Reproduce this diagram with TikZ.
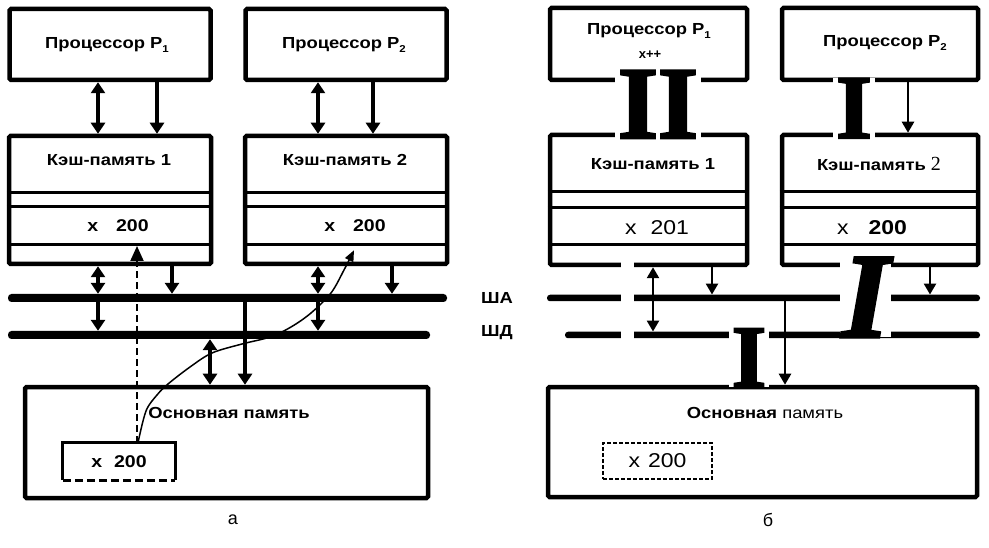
\documentclass[tikz,border=0pt]{standalone}
\usepackage{fontspec}
\setmainfont{Liberation Sans}
\newfontfamily\wide[FakeStretch=1.15]{Liberation Sans}
\newfontfamily\serifg{Liberation Serif}
\newfontfamily\glyphf[FakeBold=2.5]{Liberation Serif}
\usetikzlibrary{arrows.meta}
\newcommand\sbs[1]{\raisebox{-0.45ex}{\fontsize{10}{10}\selectfont #1}}
\tikzset{
  box/.style={draw, line width=4.5pt, inner sep=0pt, rounded corners=1.5pt},
  tbox/.style={inner sep=0pt},
  rowline/.style={line width=3pt},
  lbus/.style={fill=black, rounded corners=3.5pt, minimum height=8pt, inner sep=0pt},
  rbus/.style={fill=black, rounded corners=3pt, minimum height=6.5pt, inner sep=0pt},
  ltip/.tip={Triangle[width=14pt,length=11pt]},
  rtip/.tip={Triangle[width=12pt,length=11pt]},
  larr/.style={line width=4pt, -ltip},
  ldbl/.style={line width=4pt, ltip-ltip},
  rarr/.style={line width=2.5pt, -rtip},
  rdbl/.style={line width=2.5pt, rtip-rtip},
  lt/.style={inner sep=0pt, font=\wide\bfseries\fontsize{16}{18}\selectfont},
  rt/.style={inner sep=0pt, font=\wide\fontsize{20}{22}\selectfont},
  glyph/.style={fill=white, inner xsep=3pt, inner ysep=0pt, anchor=base,
    font=\glyphf\bfseries\fontsize{103}{103}\selectfont},
}
\begin{document}
\begin{tikzpicture}[x=1pt,y=-1pt]
\useasboundingbox (0,0) rectangle (989,548);

% ===================== left panel (a) =====================
\node[box, minimum width=201pt, minimum height=71pt] (P1) at (110,44.5) {};
\node[lt] (P1t) at (107,45) {Процессор P\sbs{1}};
\node[box, minimum width=201pt, minimum height=71pt] (P2) at (346,44.5) {};
\node[lt] (P2t) at (344,45) {Процессор P\sbs{2}};

\node[box, minimum width=202pt, minimum height=128pt] (C1) at (110,200) {};
\node[box, minimum width=202pt, minimum height=128pt] (C2) at (346,200) {};
\foreach \c in {C1,C2}{
  \foreach \yy in {193,207,245}{
    \draw[rowline] (\c.west |- 0,\yy) -- (\c.east |- 0,\yy);
  }
}
\node[lt] (C1t) at (109,160) {Кэш-память 1};
\node[lt] (C2t) at (345,160) {Кэш-память 2};
\node[lt, font=\wide\bfseries\fontsize{17}{19}\selectfont] (C1x) at (118,226) {x\hspace{18pt}200};
\node[lt, font=\wide\bfseries\fontsize{17}{19}\selectfont] (C2x) at (355,226) {x\hspace{18pt}200};

\node[lbus, minimum width=439pt] (SA) at (227.5,298) {};
\node[lbus, minimum width=422pt] (SD) at (219,335) {};

\node[box, minimum width=403pt, minimum height=111pt] (M) at (226.5,442.5) {};
\node[lt] (Mt) at (229,413) {Основная память};
\node[tbox, minimum width=112pt, minimum height=37pt, font=\wide\bfseries\fontsize{17}{19}\selectfont] (XB) at (119,461.5) {x\hspace{12pt}200};
\draw[line width=3pt] (XB.south west) -- (XB.north west) -- (XB.north east) -- (XB.south east);
\draw[line width=3pt, dash pattern=on 8pt off 4pt] (XB.south west) -- (XB.south east);

% arrows (a)
\draw[ldbl] ([xshift=-12pt]P1.south) -- ([xshift=-12pt]C1.north);
\draw[larr] ([xshift=47pt]P1.south) -- ([xshift=47pt]C1.north);
\draw[ldbl] ([xshift=-28pt]P2.south) -- ([xshift=-28pt]C2.north);
\draw[larr] ([xshift=27pt]P2.south) -- ([xshift=27pt]C2.north);

\draw[ldbl] ([xshift=-12pt]C1.south) -- ([xshift=-12pt]C1.south |- SA.north);
\draw[larr] ([xshift=-12pt]C1.south |- SA.south) -- ([xshift=-12pt]C1.south |- SD.north);
\draw[larr] ([xshift=62pt]C1.south) -- ([xshift=62pt]C1.south |- SA.north);
\draw[ldbl] ([xshift=-28pt]C2.south) -- ([xshift=-28pt]C2.south |- SA.north);
\draw[larr] ([xshift=-28pt]C2.south |- SA.south) -- ([xshift=-28pt]C2.south |- SD.north);
\draw[larr] ([xshift=46pt]C2.south) -- ([xshift=46pt]C2.south |- SA.north);
\draw[ldbl] ([xshift=-16.5pt]M.north |- SD.south) -- ([xshift=-16.5pt]M.north);
\draw[larr] ([xshift=18.5pt]M.north |- SA.south) -- ([xshift=18.5pt]M.north);

% dashed link from memory copy to cache 1
\draw[line width=2pt, dash pattern=on 7pt off 4pt, -{Triangle[width=13pt,length=15pt]}]
  ([xshift=18pt]XB.north) -- ([xshift=18pt]XB.north |- 0,246);

% thin curve from memory copy to cache 2
\coordinate (cs) at ([xshift=19pt]XB.north);
\coordinate (ce) at ([xshift=8pt,yshift=16pt]C2.south);
\draw[line width=1.5pt, -{Triangle[width=9pt,length=11pt]}]
  plot[smooth, tension=0.55] coordinates {(cs) (146,411) (157,395) (168,384) (190,367) (212,353) (242,344) (270,337) (291,327) (311,313) (331,293) (344,270) (ce)};

\node[lt] (SAt) at (497,298) {ША};
\node[lt] (SDt) at (497,333) {ШД};
\node[inner sep=0pt, font=\fontsize{18}{20}\selectfont] (la) at (233,520) {а};

% ===================== right panel (б) =====================
\node[box, minimum width=197pt, minimum height=72pt] (P1r) at (648.5,44) {};
\node[lt] (P1rt) at (649,31) {Процессор P\sbs{1}};
\node[lt, font=\bfseries\fontsize{13}{15}\selectfont] (P1rx) at (650,55) {x++};
\node[box, minimum width=196pt, minimum height=72pt] (P2r) at (880,44) {};
\node[lt] (P2rt) at (885,43) {Процессор P\sbs{2}};

\node[box, minimum width=197pt, minimum height=130pt] (C1r) at (648.5,200) {};
\node[box, minimum width=196pt, minimum height=130pt] (C2r) at (880,200) {};
\foreach \c in {C1r,C2r}{
  \foreach \yy in {192,208,245}{
    \draw[rowline] (\c.west |- 0,\yy) -- (\c.east |- 0,\yy);
  }
}
\node[lt] (C1rt) at (653,164) {Кэш-память 1};
\node[lt] (C2rt) at (879,164) {Кэш-память {\serifg\mdseries\fontsize{20}{22}\selectfont 2}};
\node[rt] (C1rx) at (657,228) {x\hspace{14pt}201};
\node[rt] (C2rx) at (872,228) {x\hspace{20pt}\textbf{200}};

\node[rbus, minimum width=433pt] (SAr) at (763.5,298) {};
\node[rbus, minimum width=415pt] (SDr) at (772.5,335) {};

\node[box, minimum width=429pt, minimum height=110pt] (Mr) at (762.5,442) {};
\node[lt] (Mrt) at (765,413) {Основная {\mdseries память}};
\node[rt, draw, line width=2pt, dash pattern=on 4pt off 2pt, minimum width=109pt, minimum height=36pt] (XBr) at (657.5,461) {x\hspace{8pt}200};

% overprinted serif glyphs (they cut the lines)
\node[glyph] (g1) at (658,138) {II};
\node[glyph, font=\glyphf\bfseries\fontsize{91}{91}\selectfont] (g2) at (854,138) {I};
\node[glyph, font=\glyphf\bfseries\fontsize{89}{89}\selectfont] (g3) at (749,387) {I};
\node[glyph, anchor=base west, inner xsep=2pt, font=\glyphf\bfseries\itshape\fontsize{121}{121}\selectfont] (g4) at (840,337) {I};
\fill[white] (621,258) rectangle (634,342);

% arrows (б)
\draw[rarr] ([xshift=28pt]P2r.south) -- ([xshift=28pt]C2r.north);
\draw[rdbl] ([xshift=4.5pt]C1r.south) -- ([xshift=4.5pt]C1r.south |- SDr.north);
\draw[rarr] ([xshift=63.5pt]C1r.south) -- ([xshift=63.5pt]C1r.south |- SAr.north);
\draw[rarr] ([xshift=22.5pt]Mr.north |- SAr.south) -- ([xshift=22.5pt]Mr.north);
\draw[rarr] ([xshift=50pt]C2r.south) -- ([xshift=50pt]C2r.south |- SAr.north);

\node[inner sep=0pt, font=\fontsize{18}{20}\selectfont] (lb) at (768,520) {б};
\end{tikzpicture}
\end{document}
